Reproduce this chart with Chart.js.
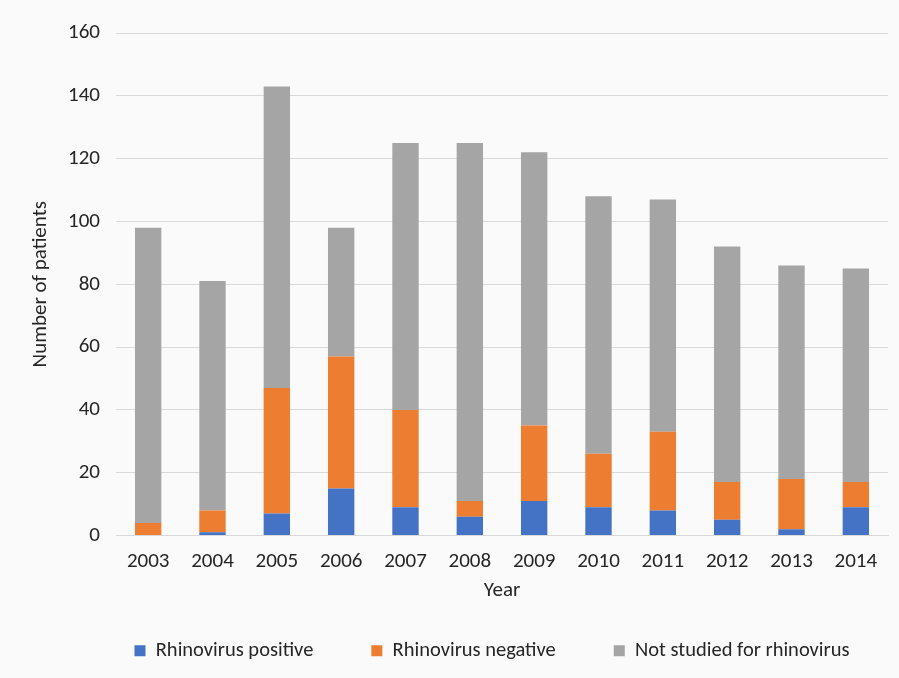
<!DOCTYPE html>
<html lang="en">
<head>
    <meta charset="UTF-8">
    <title>Patients per year</title>
    <script src="https://cdn.jsdelivr.net/npm/chart.js"></script>
    <style>
        html, body { margin: 0; padding: 0; background: #fafafa; }
        #wrap { width: 899px; height: 678px; }
    </style>
</head>
<body>
    <div id="wrap"><canvas id="myChart" width="899" height="678"></canvas></div>
    <script>
        const years = ['2003', '2004', '2005', '2006', '2007', '2008', '2009', '2010', '2011', '2012', '2013', '2014'];
        const positive = [0, 1, 7, 15, 9, 6, 11, 9, 8, 5, 2, 9];
        const negative = [4, 7, 40, 42, 31, 5, 24, 17, 25, 12, 16, 8];
        const notStudied = [94, 73, 96, 41, 85, 114, 87, 82, 74, 75, 68, 68];
        const yTicks = [0, 20, 40, 60, 80, 100, 120, 140, 160];

        const fontFamily = 'Carlito, Calibri, "Open Sans", sans-serif';
        const textColor = '#262626';

        // nudge the legend a bit right/down, like the original
        const shiftLegend = {
            id: 'shiftLegend',
            afterLayout: function(chart) {
                chart.legend.left += 36;
                chart.legend.right += 36;
                chart.legend.top += 3;
                chart.legend.bottom += 3;
            }
        };

        const ctx = document.getElementById('myChart').getContext('2d');
        const myChart = new Chart(ctx, {
            type: 'bar',
            data: {
                labels: years,
                datasets: [
                    { label: 'Rhinovirus positive', data: positive, backgroundColor: '#4472C4' },
                    { label: 'Rhinovirus negative', data: negative, backgroundColor: '#ED7D31' },
                    { label: 'Not studied for rhinovirus', data: notStudied, backgroundColor: '#A5A5A5' }
                ]
            },
            plugins: [shiftLegend],
            options: {
                responsive: false,
                animation: false,
                layout: { padding: { top: 33, right: 11, left: 24, bottom: 10 } },
                datasets: { bar: { barPercentage: 0.41, categoryPercentage: 1 } },
                scales: {
                    x: {
                        stacked: true,
                        grid: { display: false },
                        border: { color: '#d9d9d9', width: 1 },
                        ticks: { color: textColor, font: { family: fontFamily, size: 21 }, padding: 6, maxRotation: 0 },
                        // title sits below the axis box so the wide legend padding fits
                        title: { display: true, text: 'Year', color: textColor, font: { family: fontFamily, size: 21 }, padding: { top: 0, bottom: -24 } },
                        afterFit: function(scale) { scale.height = 44; }
                    },
                    y: {
                        stacked: true,
                        min: 0,
                        max: 160,
                        afterBuildTicks: function(scale) { scale.ticks = yTicks.map(v => ({ value: v })); },
                        grid: { color: '#d9d9d9', drawTicks: false },
                        border: { display: false },
                        ticks: { color: textColor, font: { family: fontFamily, size: 21 }, padding: 16 },
                        title: { display: true, text: 'Number of patients', color: textColor, font: { family: fontFamily, size: 21 } },
                        afterFit: function(scale) { scale.width = 92; }
                    }
                },
                plugins: {
                    legend: {
                        position: 'bottom',
                        labels: {
                            color: textColor,
                            font: { family: fontFamily, size: 20.5 },
                            boxWidth: 11,
                            boxHeight: 11,
                            padding: 58
                        }
                    },
                    tooltip: { enabled: false }
                }
            }
        });
    </script>
</body>
</html>
